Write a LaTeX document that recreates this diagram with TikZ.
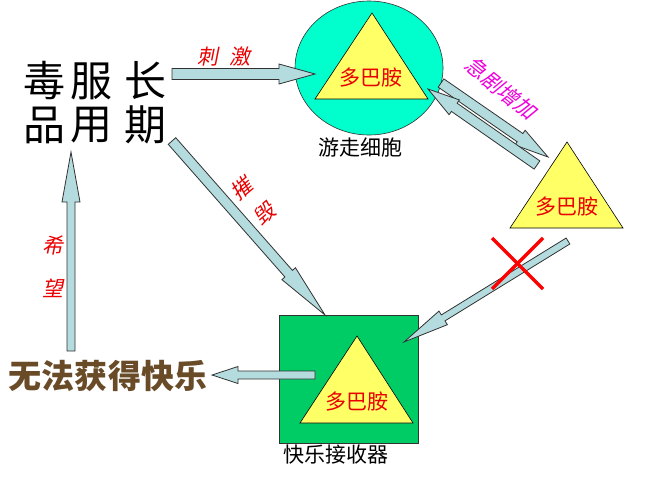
\documentclass[tikz,border=0pt]{standalone}
\usepackage{fontspec}
\newfontfamily\cjk{Noto Sans CJK SC}
\newfontfamily\cjkit{Noto Sans CJK SC}[FakeSlant=0.2]
\usetikzlibrary{calc,shapes.geometric}
\definecolor{cellcyan}{RGB}{0,255,204}
\definecolor{recgreen}{RGB}{0,204,102}
\definecolor{triyellow}{RGB}{255,255,102}
\definecolor{arrowfill}{RGB}{180,220,222}
\definecolor{arrowline}{RGB}{50,50,50}
\definecolor{txtred}{RGB}{235,0,0}
\definecolor{txtmag}{RGB}{240,0,220}
\definecolor{txtbrown}{RGB}{105,75,40}
\tikzset{
  barrow/.style={fill=arrowfill, draw=arrowline, line width=0.8pt, line join=miter},
  tri/.style={fill=triyellow, draw=black, line width=0.6pt},
  dopa/.style={text=txtred, font=\cjk\fontsize{21}{23}\selectfont, inner sep=0pt},
  caption/.style={text=black, font=\cjk\fontsize{21}{23}\selectfont, inner sep=0pt},
  bigchar/.style={text=black, font=\cjk\fontsize{42}{44}\selectfont, inner sep=0pt},
  redlabel/.style={text=txtred, font=\cjkit\fontsize{21}{23}\selectfont, inner sep=0pt},
}
\newcommand\blockarrow[5]{%
  \coordinate (bah) at ($(#2)!#5!(#1)$);
  \filldraw[barrow] ($(#1)!#3!90:(#2)$) -- ($(bah)!#3!90:(#2)$) -- ($(bah)!#4!90:(#2)$)
    -- (#2) -- ($(bah)!#4!-90:(#2)$) -- ($(bah)!#3!-90:(#2)$) -- ($(#1)!#3!-90:(#2)$) -- cycle;
}
\begin{document}
\begin{tikzpicture}[x=1pt,y=-1pt]
\useasboundingbox (0,0) rectangle (671,480);
\fill[white] (0,0) rectangle (671,480);

% cell (circle)
\node[ellipse, fill=cellcyan, draw=arrowline, line width=0.6pt, minimum width=148pt, minimum height=134pt, inner sep=0pt] (cell) at (369,68) {};
\coordinate (c1) at (372,13); \coordinate (c2) at (315,99); \coordinate (c3) at (428,99);
\draw[tri] (c1) -- (c2) -- (c3) -- cycle;
\node[dopa] (d1) at (371,78) {多巴胺};
\node[caption] (cellcap) at (360,148) {游走细胞};

% free dopamine
\coordinate (f1) at (567,142); \coordinate (f2) at (510,228); \coordinate (f3) at (623,228);
\draw[tri] (f1) -- (f2) -- (f3) -- cycle;
\node[dopa] (d2) at (567,207) {多巴胺};

% receptor
\node[rectangle, fill=recgreen, draw=arrowline, line width=0.6pt, minimum width=139pt, minimum height=128pt, inner sep=0pt] (rec) at (348.5,379) {};
\coordinate (r1) at (357,336); \coordinate (r2) at (300,423); \coordinate (r3) at (413,423);
\draw[tri] (r1) -- (r2) -- (r3) -- cycle;
\node[dopa] (d3) at (357,402) {多巴胺};
\node[caption] (reccap) at (336,455) {快乐接收器};

% big characters
\node[bigchar] (t1) at (44,81) {毒};
\node[bigchar] (t2) at (91,81) {服};
\node[bigchar] (t3) at (145,81) {长};
\node[bigchar] (t4) at (44,125) {品};
\node[bigchar] (t5) at (91,125) {用};
\node[bigchar] (t6) at (145,125) {期};

% no pleasure
\node[text=txtbrown, font=\cjk\bfseries\fontsize{33}{35}\selectfont, inner sep=0pt] (nojoy) at (108,376) {无法获得快乐};

% arrow endpoints
\coordinate (a1s) at (172,74);  \coordinate (a1e) at (315,74);
\coordinate (a2s) at (172,141); \coordinate (a2e) at (325,315);
\coordinate (a3s) at (71,351);  \coordinate (a3e) at (71,152);
\coordinate (a4s) at (315,375); \coordinate (a4e) at (212,375);
\coordinate (a5s) at (441,83);  \coordinate (a5e) at (548,157);
\coordinate (a6s) at (537,165); \coordinate (a6e) at (428,89);
\coordinate (a7s) at (568,241); \coordinate (a7e) at (404,342);

\blockarrow{a1s}{a1e}{5.5pt}{10pt}{36pt}
\blockarrow{a2s}{a2e}{5pt}{9pt}{55pt}
\blockarrow{a3s}{a3e}{4pt}{9pt}{50pt}
\blockarrow{a4s}{a4e}{4pt}{8.5pt}{26pt}
\blockarrow{a5s}{a5e}{5pt}{9pt}{34pt}
\blockarrow{a6s}{a6e}{5pt}{9pt}{32pt}
\blockarrow{a7s}{a7e}{3.5pt}{8pt}{46pt}

% labels
\node[redlabel] (lstim) at (224,57) {刺\hspace{12pt}激};
\node[redlabel, rotate=40] (ldes1) at (241,189) {摧};
\node[redlabel, rotate=40] (ldes2) at (264,214) {毁};
\node[redlabel] (lhope1) at (53,245) {希};
\node[redlabel] (lhope2) at (53,288) {望};
\node[text=txtmag, font=\cjkit\fontsize{21}{23}\selectfont, inner sep=0pt, rotate=-39] (lsurge) at (501,88) {急剧增加};

% red cross
\coordinate (x1) at (492,238); \coordinate (x2) at (543,289);
\coordinate (x3) at (543,238); \coordinate (x4) at (492,289);
\draw[red, line width=3.4pt] (x1) -- (x2);
\draw[red, line width=3.4pt] (x3) -- (x4);
\end{tikzpicture}
\end{document}
